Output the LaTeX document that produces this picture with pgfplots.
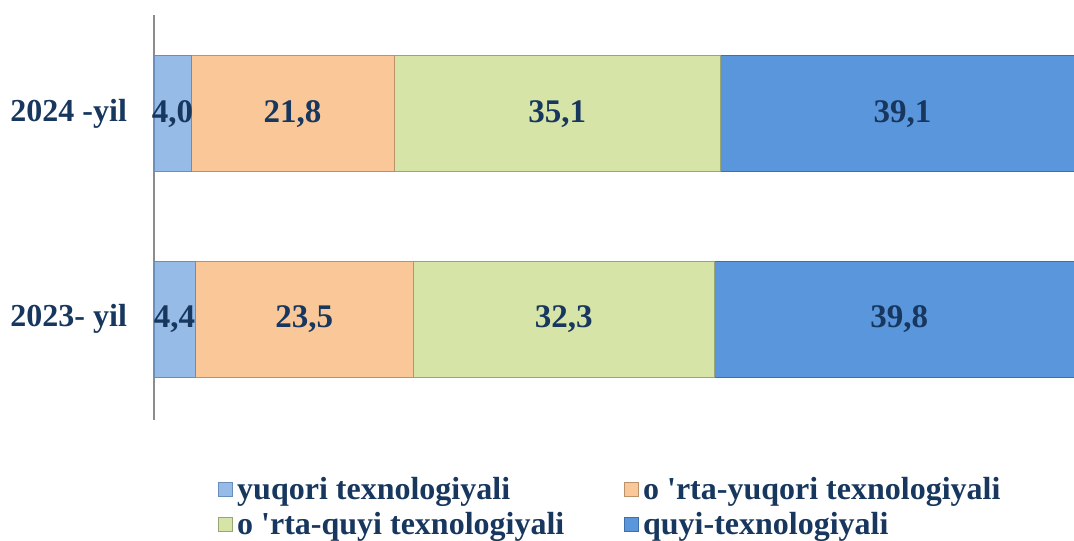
\documentclass[border=0pt]{standalone}
\usepackage{pgfplots}
\pgfplotsset{compat=1.18}
\usepackage{fontspec}
\setmainfont{Liberation Serif}

\definecolor{txt}{HTML}{17375E}
\definecolor{axgray}{HTML}{8C8C8C}
\definecolor{cA}{HTML}{95BBE6}
\definecolor{cB}{HTML}{FAC898}
\definecolor{cC}{HTML}{D7E4A8}
\definecolor{cD}{HTML}{5A96DC}
\definecolor{eA}{HTML}{6A8EBB}
\definecolor{eB}{HTML}{B9916B}
\definecolor{eC}{HTML}{97A672}
\definecolor{eD}{HTML}{3F6FA6}

\begin{document}
\begin{tikzpicture}[font=\fontsize{16}{19}\selectfont\bfseries]
\path[use as bounding box] (0,0) rectangle (537pt,270pt);
\begin{axis}[
  at={(77pt,60pt)}, anchor=south west,
  scale only axis, width=460pt, height=202.5pt,
  xbar stacked, bar width=58pt,
  xmin=0, xmax=98.9, ymin=-0.49, ymax=1.48,
  axis x line=none, axis y line*=left,
  y axis line style={draw=axgray, line width=0.75pt, -},
  ytick={0,1}, yticklabels={2023- yil,2024 -yil},
  ytick style={draw=none},
  yticklabel style={text=txt, xshift=-10pt},
  legend image code/.code={\draw[#1] (0pt,-3.5pt) rectangle (7pt,3.5pt);},
  legend columns=2,
  legend cell align=left,
  legend style={at={(0.0696,-0.13)}, anchor=north west, draw=none, fill=none,
    text=txt, inner sep=0pt, font=\fontsize{16}{19}\selectfont\bfseries,
    /tikz/column 2/.style={column sep=28pt}, row sep=1pt},
]
\addplot[fill=cA, draw=eA] coordinates {(4.4,0) (4.0,1)};
\addplot[fill=cB, draw=eB] coordinates {(23.5,0) (21.8,1)};
\addplot[fill=cC, draw=eC] coordinates {(32.3,0) (35.1,1)};
\addplot[fill=cD, draw=eD] coordinates {(39.8,0) (39.1,1)};
\legend{yuqori texnologiyali, o \textquotesingle rta-yuqori texnologiyali, o \textquotesingle rta-quyi texnologiyali, quyi-texnologiyali}
\end{axis}
\begin{axis}[
  at={(77pt,60pt)}, anchor=south west,
  scale only axis, width=460pt, height=202.5pt,
  xmin=0, xmax=98.9, ymin=-0.49, ymax=1.48,
  hide axis, clip=false,
]
\addplot[draw=none, mark=none, nodes near coords={\pgfplotspointmeta},
  point meta=explicit symbolic,
  every node near coord/.append style={anchor=center, text=txt, inner sep=0pt,
    font=\fontsize{16.5}{19}\selectfont\bfseries}]
  table[meta=l] {
x y l
2.2 0 4,4
16.15 0 23,5
44.05 0 32,3
80.1 0 39,8
2.0 1 4,0
14.9 1 21,8
43.35 1 35,1
80.45 1 39,1
};
\end{axis}
\end{tikzpicture}
\end{document}
